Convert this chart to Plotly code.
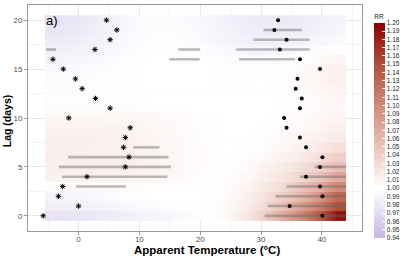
import plotly.graph_objects as go

# ---------------- data ----------------
lags = list(range(21))

# temperature cell edges of the RR surface (°C)
temp_edges = [-5.5, -2, 2, 6, 10, 14, 18, 22, 26, 29, 32, 35, 38, 41, 44]

# RR per lag (rows) at each temperature cell (columns)
rr = [
    [0.975, 0.978, 0.982, 0.986, 0.990, 0.994, 0.998, 1.005, 1.020, 1.040, 1.070, 1.100, 1.140, 1.190],
    [0.985, 0.987, 0.990, 0.993, 0.996, 0.998, 1.000, 1.004, 1.015, 1.030, 1.050, 1.080, 1.110, 1.150],
    [0.990, 0.992, 0.995, 0.998, 1.000, 1.000, 1.000, 1.003, 1.012, 1.025, 1.040, 1.060, 1.090, 1.130],
    [1.003, 1.004, 1.004, 1.003, 1.002, 1.001, 1.000, 1.002, 1.008, 1.018, 1.030, 1.050, 1.070, 1.100],
    [1.012, 1.012, 1.011, 1.010, 1.008, 1.005, 1.002, 1.002, 1.006, 1.013, 1.022, 1.035, 1.050, 1.075],
    [1.014, 1.014, 1.013, 1.012, 1.010, 1.006, 1.003, 1.001, 1.004, 1.010, 1.016, 1.026, 1.038, 1.055],
    [1.014, 1.014, 1.013, 1.012, 1.010, 1.006, 1.003, 1.000, 1.002, 1.006, 1.011, 1.018, 1.027, 1.040],
    [1.013, 1.013, 1.012, 1.011, 1.009, 1.006, 1.003, 1.000, 1.001, 1.003, 1.007, 1.012, 1.018, 1.027],
    [1.012, 1.012, 1.011, 1.010, 1.008, 1.005, 1.002, 1.000, 1.000, 1.002, 1.004, 1.008, 1.012, 1.018],
    [1.010, 1.010, 1.010, 1.009, 1.007, 1.005, 1.002, 1.000, 1.000, 1.001, 1.003, 1.005, 1.008, 1.012],
    [1.008, 1.008, 1.008, 1.007, 1.006, 1.004, 1.002, 1.000, 1.000, 1.000, 1.002, 1.004, 1.006, 1.009],
    [1.003, 1.003, 1.003, 1.003, 1.002, 1.001, 1.000, 1.000, 1.000, 1.000, 1.001, 1.003, 1.005, 1.007],
    [0.998, 0.998, 0.999, 0.999, 1.000, 1.000, 1.000, 1.000, 1.000, 1.000, 1.001, 1.003, 1.005, 1.008],
    [0.997, 0.997, 0.998, 0.999, 1.000, 1.000, 1.000, 1.000, 1.000, 1.000, 1.002, 1.004, 1.007, 1.010],
    [0.996, 0.997, 0.998, 0.999, 1.000, 1.000, 1.000, 0.999, 0.999, 1.000, 1.002, 1.005, 1.008, 1.012],
    [0.994, 0.995, 0.997, 0.999, 1.000, 1.000, 1.000, 0.999, 0.998, 0.999, 1.001, 1.004, 1.008, 1.012],
    [0.990, 0.992, 0.995, 0.998, 1.000, 1.000, 0.999, 0.997, 0.995, 0.995, 0.997, 1.000, 1.004, 1.008],
    [0.986, 0.988, 0.992, 0.996, 0.999, 0.999, 0.997, 0.994, 0.991, 0.990, 0.991, 0.994, 0.997, 1.000],
    [0.982, 0.985, 0.990, 0.995, 0.998, 0.998, 0.995, 0.991, 0.987, 0.986, 0.986, 0.989, 0.992, 0.995],
    [0.978, 0.982, 0.988, 0.994, 0.997, 0.997, 0.994, 0.989, 0.985, 0.983, 0.983, 0.985, 0.988, 0.992],
    [0.974, 0.979, 0.986, 0.993, 0.997, 0.996, 0.993, 0.988, 0.983, 0.981, 0.981, 0.983, 0.986, 0.990],
]

# temperature of the cold-side (asterisk) and hot-side (dot) markers per lag
cold_temp = [-5.8, 0.0, -3.3, -2.6, 1.4, 7.7, 8.3, 7.4, 7.7, 8.5, -1.6,
             5.2, 2.8, 0.6, -0.5, -2.5, -4.2, 2.7, 5.2, 6.3, 4.6]
hot_temp = [40.1, 34.7, 40.1, 39.7, 37.4, 39.7, 40.1, 37.4, 36.4, 34.2, 33.8,
            36.4, 36.7, 35.7, 36.0, 39.7, 36.4, 33.1, 34.2, 32.2, 32.8]

# significant temperature ranges (grey bars)
sig_lag = [19, 18, 17, 17, 17, 16, 16, 7, 6, 5, 5, 4, 4, 3, 3, 2, 1, 0]
sig_start = [30.4, 28.7, -5.35, 16.4, 25.9, 14.9, 26.4, 9.0, -1.7, -3.2, 38.8,
             -2.7, 36.4, -0.4, 34.2, 32.4, 31.1, 30.6]
sig_end = [36.7, 38.0, -3.7, 20.0, 38.0, 19.9, 35.6, 13.3, 14.8, 15.2, 44.0,
           14.6, 44.0, 7.8, 44.0, 44.0, 44.0, 44.0]

rr_ticks = [round(0.94 + 0.01 * i, 2) for i in range(27)]

# ---------------- figure ----------------
fig = go.Figure()

for lag, row in zip(lags, rr):
    fig.add_trace(go.Heatmap(
        x=temp_edges, y=[lag - 0.5, lag + 0.5], z=[row],
        coloraxis="coloraxis", zsmooth="best", hoverinfo="skip",
    ))

bx, by = [], []
for l, s, e in zip(sig_lag, sig_start, sig_end):
    bx += [s, e, None]
    by += [l, l, None]
fig.add_trace(go.Scatter(
    x=bx, y=by, mode="lines",
    line=dict(color="rgba(105,105,105,0.45)", width=2.6),
    hoverinfo="skip", showlegend=False,
))

fig.add_trace(go.Scatter(
    x=cold_temp, y=lags, mode="markers",
    marker=dict(symbol="asterisk-open", size=4.5, color="black",
                line=dict(color="black", width=1)),
    showlegend=False,
))
fig.add_trace(go.Scatter(
    x=hot_temp, y=lags, mode="markers",
    marker=dict(symbol="circle", size=4, color="black"),
    showlegend=False,
))

colorscale = [
    [0.0, "#c4b6e2"],
    [0.115, "#e3dcf1"],
    [0.2308, "#ffffff"],
    [0.4231, "#ebc3b9"],
    [0.6154, "#d18978"],
    [0.8077, "#b0503b"],
    [1.0, "#8b0000"],
]

fig.update_layout(
    width=415, height=260,
    margin=dict(l=28, r=53, t=5, b=29, autoexpand=False),
    paper_bgcolor="white", plot_bgcolor="white",
    font=dict(family="Liberation Sans, Arial, sans-serif", color="#4d4d4d"),
    showlegend=False,
    coloraxis=dict(
        colorscale=colorscale, cmin=0.94, cmax=1.20,
        colorbar=dict(
            title=dict(text="RR", side="top", font=dict(size=6.5, color="#222")),
            thickness=11, len=227, lenmode="pixels",
            x=1.037, xanchor="left", xpad=0,
            y=0.472, yanchor="middle", ypad=0,
            tickvals=rr_ticks, ticktext=[f"{v:.2f}" for v in rr_ticks],
            ticks="inside", tickcolor="white", ticklen=3, tickwidth=1,
            tickfont=dict(size=6.5, color="#222"),
            outlinewidth=0,
        ),
    ),
    xaxis=dict(
        range=[-8.3, 46.6], tickvals=[0, 10, 20, 30, 40],
        showgrid=True, gridcolor="#e6e6e6", gridwidth=1,
        minor=dict(tickvals=[-5, 5, 15, 25, 35, 45], showgrid=True,
                   gridcolor="#f2f2f2", gridwidth=0.6),
        zeroline=False, showline=True, mirror=True,
        linecolor="#9a9a9a", linewidth=1,
        ticks="outside", ticklen=3, tickcolor="#9a9a9a",
        ticklabelstandoff=-3,
        tickfont=dict(size=8, color="#4d4d4d"),
    ),
    yaxis=dict(
        range=[-1.55, 21.55], tickvals=[0, 5, 10, 15, 20],
        showgrid=True, gridcolor="#e6e6e6", gridwidth=1,
        minor=dict(tickvals=[2.5, 7.5, 12.5, 17.5], showgrid=True,
                   gridcolor="#f2f2f2", gridwidth=0.6),
        zeroline=False, showline=True, mirror=True,
        linecolor="#9a9a9a", linewidth=1,
        ticks="outside", ticklen=3, tickcolor="#9a9a9a",
        tickfont=dict(size=8, color="#4d4d4d"),
    ),
    annotations=[
        dict(text="a)", x=-5.6, y=20, xref="x", yref="y", xanchor="left",
             yanchor="middle", showarrow=False,
             font=dict(size=13, color="black")),
        dict(text="<b>Apparent Temperature (°C)</b>", x=0.536, y=-0.086,
             xref="paper", yref="paper", xanchor="center", yanchor="middle",
             showarrow=False, font=dict(size=11.5, color="black")),
        dict(text="<b>Lag (days)</b>", x=-0.063, y=0.49, xref="paper",
             yref="paper", xanchor="center", yanchor="middle", textangle=-90,
             showarrow=False, font=dict(size=10.5, color="black")),
    ],
)

fig.write_html("out.html",
               config={"displayModeBar": False},
               post_script="document.body.style.margin='0';"
                           "document.body.style.overflow='hidden';")
